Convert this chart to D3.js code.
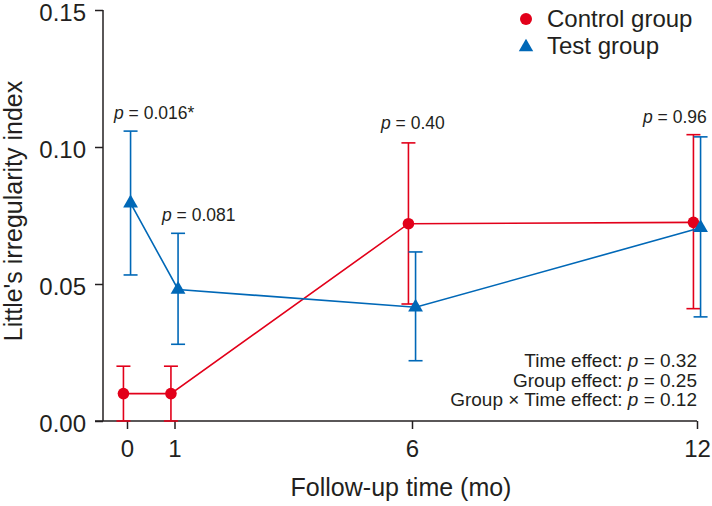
<!DOCTYPE html>
<html><head><meta charset="utf-8">
<script src="https://cdn.jsdelivr.net/npm/d3@7"></script>
<style>body{margin:0;background:#fff}svg{display:block}text{font-family:Arial,"Liberation Sans",sans-serif;fill:#231f20}</style>
</head><body>
<svg id="c" width="712" height="506"></svg>
<script>
const months = [0, 1, 6, 12];
const controlMean = [0.010, 0.010, 0.072, 0.0725];
const controlLow  = [0.000, 0.000, 0.0427, 0.041];
const controlHigh = [0.020, 0.020, 0.1015, 0.1045];
const testMean = [0.0795, 0.048, 0.0415, 0.0705];
const testLow  = [0.0533, 0.028, 0.022, 0.038];
const testHigh = [0.1058, 0.0685, 0.0617, 0.1037];
const yTicks = [0, 0.05, 0.10, 0.15];
const pLabels = ["0.016*", "0.081", "0.40", "0.96"];
const effects = [["Time effect: ", "0.32"], ["Group effect: ", "0.25"], ["Group \u00d7 Time effect: ", "0.12"]];
const seriesNames = ["Control group", "Test group"];
const RED = "#e2001a", BLUE = "#0068b7", INK = "#231f20";

const svg = d3.select("#c");
const x = d3.scaleLinear().domain([0, 12]).range([127, 697]);
const y = d3.scaleLinear().domain([0, 0.15]).range([421, 10]);
const off = 0.075;

// axes
const yAxis = d3.axisLeft(y).tickValues(yTicks).tickFormat(d3.format(".2f")).tickSize(8).tickPadding(9);
const gy = svg.append("g").attr("transform", "translate(103,0)").call(yAxis);
gy.select(".domain").remove();
gy.append("line").attr("x1", 0).attr("x2", 0).attr("y1", y(0.15)).attr("y2", y(0)).attr("stroke", INK).attr("stroke-width", 1.5);
gy.selectAll(".tick line").attr("stroke", INK).attr("stroke-width", 1.5);
gy.selectAll(".tick text").style("font-size", "24px").attr("fill", INK).attr("dy", "0.42em");

const xAxis = d3.axisBottom(x).tickValues(months).tickFormat(d3.format("d")).tickSize(8).tickPadding(11);
const gx = svg.append("g").attr("transform", "translate(0,421)").call(xAxis);
gx.select(".domain").remove();
gx.append("line").attr("x1", 95).attr("x2", x(12)).attr("y1", 0).attr("y2", 0).attr("stroke", INK).attr("stroke-width", 1.5);
gx.selectAll(".tick line").attr("stroke", INK).attr("stroke-width", 1.5);
gx.selectAll(".tick text").style("font-size", "24px").attr("fill", INK);

// axis titles
svg.append("text").attr("transform", "translate(22,211) rotate(-90)").attr("text-anchor", "middle").style("font-size", "25px").text("Little's irregularity index");
svg.append("text").attr("x", 401).attr("y", 496).attr("text-anchor", "middle").style("font-size", "25px").text("Follow-up time (mo)");

function series(mean, lo, hi, dx, color, shape) {
  const g = svg.append("g");
  const line = d3.line().x((d, i) => x(months[i] + dx)).y(d => y(d));
  g.append("path").datum(mean).attr("d", line).attr("fill", "none").attr("stroke", color).attr("stroke-width", 1.6);
  months.forEach((m, i) => {
    const cx = x(m + dx);
    g.append("line").attr("x1", cx).attr("x2", cx).attr("y1", y(lo[i])).attr("y2", y(hi[i])).attr("stroke", color).attr("stroke-width", 1.6);
    [lo[i], hi[i]].forEach(v => {
      g.append("line").attr("x1", cx - 7).attr("x2", cx + 7).attr("y1", y(v)).attr("y2", y(v)).attr("stroke", color).attr("stroke-width", 1.6);
    });
  });
  months.forEach((m, i) => {
    const cx = x(m + dx), cy = y(mean[i]);
    if (shape === "circle") g.append("circle").attr("cx", cx).attr("cy", cy).attr("r", 5.8).attr("fill", color);
    else g.append("path").attr("transform", `translate(${cx},${cy})`).attr("d", d3.symbol(d3.symbolTriangle, 95)()).attr("fill", color);
  });
}
series(controlMean, controlLow, controlHigh, -off, RED, "circle");
series(testMean, testLow, testHigh, off, BLUE, "triangle");

// p labels
const pPos = [[114, 119], [162, 221], [381, 129], [643, 123]];
pLabels.forEach((t, i) => {
  const tx = svg.append("text").attr("x", pPos[i][0]).attr("y", pPos[i][1]).style("font-size", "17.5px");
  tx.append("tspan").style("font-style", "italic").text("p");
  tx.append("tspan").text(" = " + t);
});

// legend
const lg = svg.append("g");
lg.append("circle").attr("cx", 526).attr("cy", 19).attr("r", 6).attr("fill", RED);
lg.append("path").attr("transform", "translate(526,47)").attr("d", d3.symbol(d3.symbolTriangle, 90)()).attr("fill", BLUE);
lg.append("text").attr("x", 547).attr("y", 27).style("font-size", "24px").text(seriesNames[0]);
lg.append("text").attr("x", 547).attr("y", 54).style("font-size", "24px").text(seriesNames[1]);

// effects
effects.forEach((e, i) => {
  const tx = svg.append("text").attr("x", 697).attr("y", 367 + i * 19.5).attr("text-anchor", "end").style("font-size", "19px");
  tx.append("tspan").text(e[0]);
  tx.append("tspan").style("font-style", "italic").text("p");
  tx.append("tspan").text(" = " + e[1]);
});
</script>
</body></html>
